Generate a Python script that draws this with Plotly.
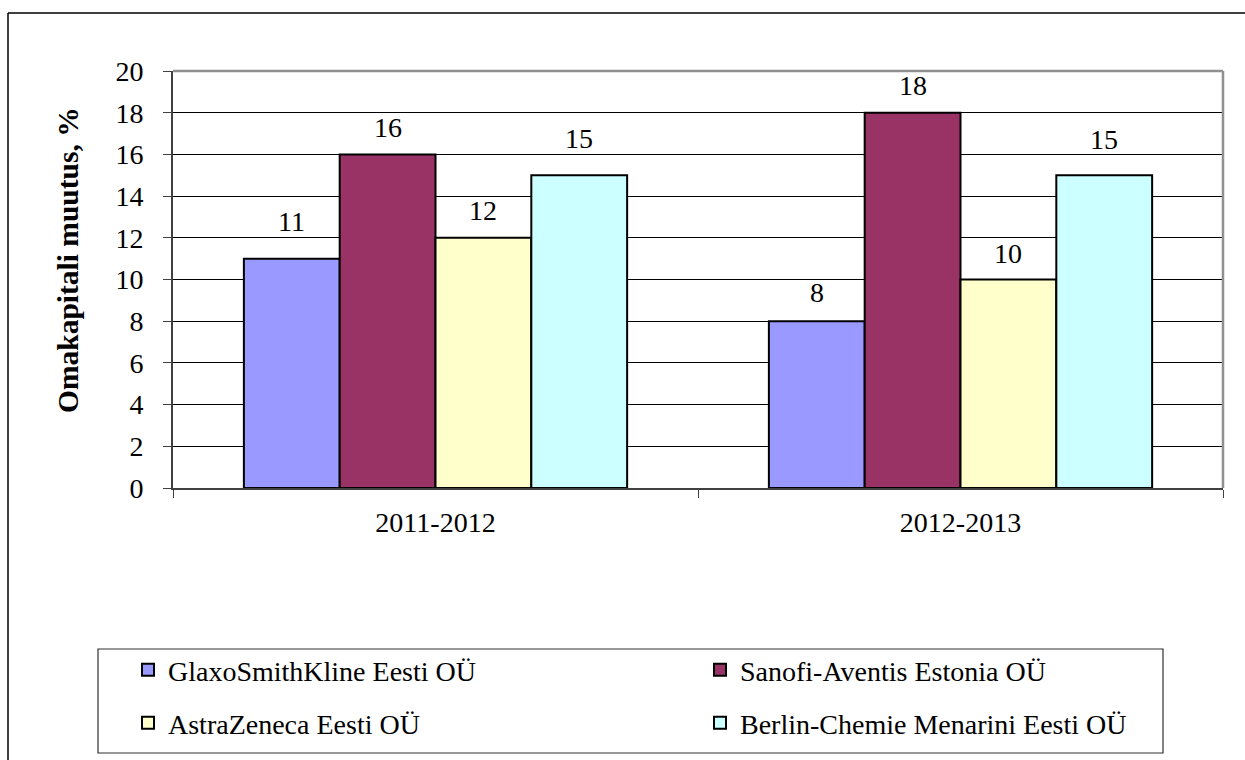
import plotly.graph_objects as go

categories = ["2011-2012", "2012-2013"]
series_names = ["GlaxoSmithKline Eesti OÜ", "Sanofi-Aventis Estonia OÜ",
                "AstraZeneca Eesti OÜ", "Berlin-Chemie Menarini Eesti OÜ"]
glaxo = [11, 8]
sanofi = [16, 18]
astra = [12, 10]
berlin = [15, 15]
series_values = [glaxo, sanofi, astra, berlin]
colors = ["#9999FF", "#993366", "#FFFFCC", "#CCFFFF"]
y_ticks = [0, 2, 4, 6, 8, 10, 12, 14, 16, 18, 20]
y_title = "Omakapitali muutus, %"

# label gap above bar (px) as in the original rendering
label_shift = [[20, 11], [9, 10], [10, 9], [19, 18]]

FONT = "Liberation Serif"
FS = 28

W, H = 1245, 760
L, R, T, B = 173, 22, 71, 272
pw, ph = W - L - R, H - T - B

def px_to_paper_x(px):
    return (px - L) / pw

def px_to_paper_y(py):
    return (H - B - py) / ph

legend_slots = [(128, 670), (700, 670), (128, 723), (700, 723)]
legend_ids = ["legend", "legend2", "legend3", "legend4"]

fig = go.Figure()
for name, vals, col, lid in zip(series_names, series_values, colors, legend_ids):
    fig.add_trace(go.Bar(
        x=[0, 1], y=vals, name=name, legend=lid,
        marker=dict(color=col, line=dict(color="black", width=2)),
    ))

n = len(series_values)
bargap = 0.27
bw = (1 - bargap) / n
annotations = []
for i, vals in enumerate(series_values):
    off = -((1 - bargap) / 2) + bw * (i + 0.5)
    for ci, v in enumerate(vals):
        annotations.append(dict(
            x=ci + off, y=v, xref="x", yref="y", text=str(v), showarrow=False,
            yanchor="bottom", yshift=label_shift[i][ci],
            font=dict(family=FONT, size=FS, color="black")))

annotations.append(dict(
    x=px_to_paper_x(68), y=px_to_paper_y(260), xref="paper", yref="paper",
    text="<b>" + y_title + "</b>", textangle=-90, showarrow=False,
    xanchor="center", yanchor="middle",
    font=dict(family=FONT, size=29.5, color="black")))

shapes = [
    dict(type="line", xref="paper", yref="paper",
         x0=px_to_paper_x(8), x1=px_to_paper_x(1250), y0=px_to_paper_y(13), y1=px_to_paper_y(13),
         line=dict(color="black", width=1.5)),
    dict(type="line", xref="paper", yref="paper",
         x0=px_to_paper_x(8), x1=px_to_paper_x(8), y0=px_to_paper_y(13), y1=px_to_paper_y(770),
         line=dict(color="black", width=1.5)),
    dict(type="rect", xref="paper", yref="paper",
         x0=px_to_paper_x(98), x1=px_to_paper_x(1163), y0=px_to_paper_y(649), y1=px_to_paper_y(753),
         line=dict(color="#303030", width=1.2), fillcolor="rgba(0,0,0,0)"),
    dict(type="line", xref="paper", yref="paper", x0=0, x1=1, y0=1, y1=1,
         line=dict(color="#909090", width=2.5)),
    dict(type="line", xref="paper", yref="paper", x0=1, x1=1, y0=0, y1=1,
         line=dict(color="#909090", width=2.5)),
]

layout_legends = {}
for lid, (lx, ly) in zip(legend_ids, legend_slots):
    layout_legends[lid] = dict(
        x=px_to_paper_x(lx), y=px_to_paper_y(ly), xanchor="left", yanchor="middle",
        orientation="h", bgcolor="rgba(0,0,0,0)", borderwidth=0,
        font=dict(family=FONT, size=FS, color="black"), itemwidth=30,
    )

fig.update_layout(
    width=W, height=H,
    margin=dict(l=L, r=R, t=T, b=B, autoexpand=False),
    paper_bgcolor="white", plot_bgcolor="white",
    barmode="group", bargap=bargap, bargroupgap=0,
    font=dict(family=FONT, size=FS, color="black"),
    showlegend=True,
    annotations=annotations,
    shapes=shapes,
    **layout_legends,
)

fig.update_xaxes(
    tickmode="array", tickvals=[0, 1], ticktext=categories,
    range=[-0.5, 1.5],
    showline=True, linecolor="#404040", linewidth=2, mirror=False,
    ticks="", showgrid=False,
    tickfont=dict(family=FONT, size=FS, color="black"),
    ticklabelstandoff=8,
)
fig.update_xaxes(minor=dict(tickvals=[-0.5, 0.5, 1.5], ticks="outside", ticklen=8,
                            tickcolor="#404040", tickwidth=1, showgrid=False))

fig.update_yaxes(
    range=[0, 20], tickvals=y_ticks,
    showline=True, linecolor="#404040", linewidth=2,
    ticks="outside", ticklen=8, tickcolor="#404040", tickwidth=1,
    showgrid=True, gridcolor="black", gridwidth=1,
    zeroline=False,
    tickfont=dict(family=FONT, size=FS, color="black"),
    ticklabelstandoff=14,
)

fig.write_html("out.html")
